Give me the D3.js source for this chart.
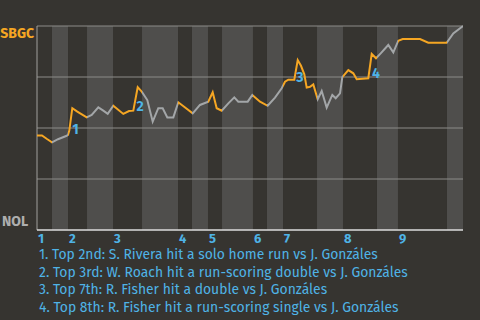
<!DOCTYPE html>
<html>
<head>
<meta charset="utf-8">
<script src="https://cdn.jsdelivr.net/npm/d3@7"></script>
<style>
  body { margin: 0; background: #363430; }
  svg { display: block; }
  text { font-family: "Fira Sans", "Noto Sans", "Open Sans", sans-serif; }
</style>
</head>
<body>
<svg id="gfx"></svg>
<script>
// game progress (0-100) where each half inning starts, last entry = end of game
const halfStarts = [0, 3.52, 7.28, 11.74, 17.84, 24.65, 33.10, 36.38, 40.14, 43.43,
                    50.70, 53.99, 57.75, 65.73, 71.83, 79.81, 84.74, 96.24, 100];
const innings = [1, 2, 3, 4, 5, 6, 7, 8, 9];

// SBGC win probability over game progress
const progress = [0, 1.17, 2.35, 3.52, 4.93, 6.97, 7.28, 7.58, 8.29, 9.46, 11.67, 12.84, 14.39,
  15.56, 16.6, 17.91, 20.26, 21.6, 22.61, 23.64, 24.58, 25.89, 27.16, 28.47, 29.51, 30.59,
  32.0, 33.17, 36.55, 38.26, 40.21, 41.24, 42.18, 43.36, 44.91, 46.31, 47.25, 49.46, 50.54,
  52.35, 54.15, 55.87, 57.44, 58.22, 58.99, 60.4, 61.2, 61.97, 62.75, 63.31, 64.08, 64.86,
  65.89, 66.83, 68.0, 69.32, 70.12, 71.13, 71.67, 73.08, 74.25, 75.05, 77.77, 78.57, 79.58,
  80.68, 82.46, 83.64, 84.81, 85.84, 89.91, 91.85, 96.17, 97.72, 100];
const winProb = [0.463, 0.463, 0.446, 0.430, 0.445, 0.462, 0.466, 0.487, 0.597, 0.580, 0.552,
  0.564, 0.601, 0.585, 0.569, 0.609, 0.569, 0.583, 0.585, 0.700, 0.678, 0.637, 0.531, 0.597,
  0.597, 0.552, 0.552, 0.626, 0.572, 0.613, 0.629, 0.675, 0.597, 0.585, 0.621, 0.650, 0.629,
  0.629, 0.662, 0.629, 0.609, 0.649, 0.695, 0.727, 0.737, 0.737, 0.833, 0.805, 0.763, 0.698,
  0.702, 0.714, 0.641, 0.681, 0.600, 0.662, 0.646, 0.670, 0.749, 0.784, 0.768, 0.739, 0.744,
  0.863, 0.842, 0.866, 0.907, 0.871, 0.928, 0.936, 0.936, 0.918, 0.918, 0.964, 1.0];

// numbered markers (label position in game progress / win probability)
const eventNums = [1, 2, 3, 4];
const eventX = [9.04, 24.18, 61.74, 79.58];
const eventWp = [0.47, 0.583, 0.727, 0.745];
const eventText = [
  "1. Top 2nd: S. Rivera hit a solo home run vs J. Gonzáles",
  "2. Top 3rd: W. Roach hit a run-scoring double vs J. Gonzáles",
  "3. Top 7th: R. Fisher hit a double vs J. Gonzáles",
  "4. Top 8th: R. Fisher hit a run-scoring single vs J. Gonzáles"
];

const awayTeam = "SBGC", homeTeam = "NOL";
const gridLevels = [0.25, 0.5, 0.75, 1];

const W = 480, H = 320;
const orange = "#f5a623", grey = "#a3a6a8", blue = "#4fb3e6";

const svg = d3.select("#gfx").attr("width", W).attr("height", H)
  .attr("viewBox", "0 0 " + W + " " + H);

svg.append("rect").attr("width", W).attr("height", H).attr("fill", "#363430");

const x = d3.scaleLinear().domain([0, 100]).range([37, 463]);
const y = d3.scaleLinear().domain([0, 1]).range([230, 26]);

const halves = d3.range(halfStarts.length - 1).map(i => ({
  i: i, x0: halfStarts[i], x1: halfStarts[i + 1], top: i % 2 === 0
}));

// half inning bands
svg.append("g").selectAll("rect")
  .data(halves)
  .join("rect")
  .attr("x", d => x(d.x0))
  .attr("y", y(1))
  .attr("width", d => x(d.x1) - x(d.x0))
  .attr("height", y(0) - y(1))
  .attr("fill", d => d.top ? "#363430" : "#4f4e4c");

// clip paths so the line is orange in top halves, grey in bottom halves
const defs = svg.append("defs");
["top", "bot"].forEach(k => {
  defs.append("clipPath").attr("id", "clip-" + k)
    .selectAll("rect")
    .data(halves.filter(d => d.top === (k === "top")))
    .join("rect")
    .attr("x", d => x(d.x0))
    .attr("y", 0)
    .attr("width", d => x(d.x1) - x(d.x0))
    .attr("height", H);
});

// grid lines
svg.append("g").selectAll("line")
  .data(gridLevels)
  .join("line")
  .attr("x1", x(0)).attr("x2", x(100))
  .attr("y1", d => y(d)).attr("y2", d => y(d))
  .attr("stroke", "#8c8b88").attr("stroke-width", 1);

// axis lines
svg.append("line")
  .attr("x1", x(0)).attr("x2", x(0))
  .attr("y1", y(1)).attr("y2", y(0))
  .attr("stroke", "#a09f9c");
svg.append("line")
  .attr("x1", x(0)).attr("x2", x(100))
  .attr("y1", y(0)).attr("y2", y(0))
  .attr("stroke", "#dcdcdc").attr("stroke-width", 1.5);

const pts = progress.map((p, i) => [p, winProb[i]]);
const line = d3.line().x(d => x(d[0])).y(d => y(d[1]));

svg.append("path").datum(pts)
  .attr("d", line).attr("fill", "none")
  .attr("stroke", orange).attr("stroke-width", 2)
  .attr("clip-path", "url(#clip-top)");
svg.append("path").datum(pts)
  .attr("d", line).attr("fill", "none")
  .attr("stroke", grey).attr("stroke-width", 2)
  .attr("clip-path", "url(#clip-bot)");

// event numbers
svg.append("g").selectAll("text")
  .data(eventNums)
  .join("text")
  .attr("x", (d, i) => x(eventX[i]))
  .attr("y", (d, i) => y(eventWp[i]))
  .attr("text-anchor", "middle")
  .attr("font-size", 14).attr("font-weight", "bold")
  .attr("fill", blue)
  .text(d => d);

// team labels
svg.append("text")
  .attr("x", 34).attr("y", y(1) + 12)
  .attr("text-anchor", "end")
  .attr("font-size", 14).attr("font-weight", "bold")
  .attr("fill", orange).text(awayTeam);
svg.append("text")
  .attr("x", 2).attr("y", y(0) - 4)
  .attr("font-size", 14).attr("font-weight", "bold")
  .attr("fill", "#aeaeae").text(homeTeam);

// inning labels
svg.append("g").selectAll("text")
  .data(innings)
  .join("text")
  .attr("x", (d, i) => x(halfStarts[i * 2]) + 1)
  .attr("y", 243)
  .attr("font-size", 13).attr("font-weight", "bold")
  .attr("fill", blue)
  .text(d => d);

// legend
svg.append("g").selectAll("text")
  .data(eventText)
  .join("text")
  .attr("x", 39)
  .attr("y", (d, i) => 259 + i * 17.6)
  .attr("font-size", 13.9)
  .attr("fill", blue)
  .text(d => d);
</script>
</body>
</html>
